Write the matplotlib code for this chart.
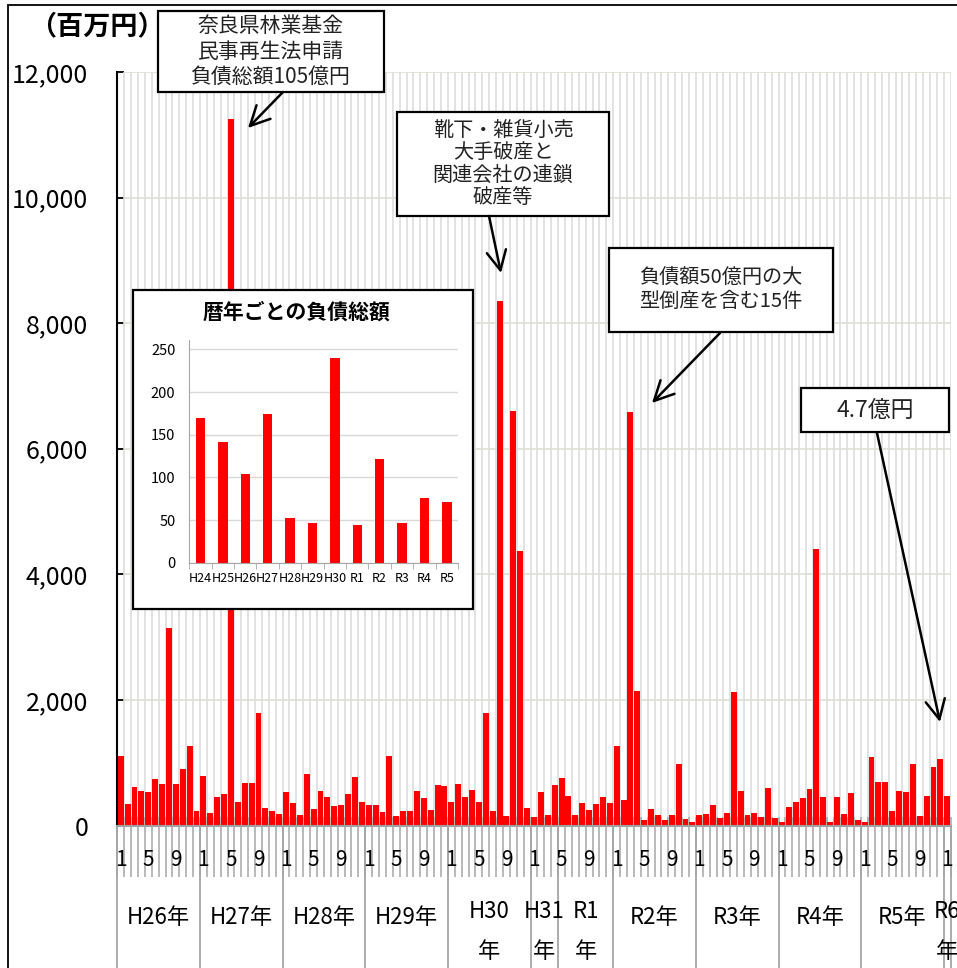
import numpy as np
import matplotlib
matplotlib.use("Agg")
import matplotlib.pyplot as plt
from matplotlib.patches import Rectangle, FancyArrowPatch
from matplotlib.ticker import FuncFormatter

plt.rcParams['font.family'] = ['Noto Sans CJK JP', 'DejaVu Sans']

# ---------------- data (百万円, monthly) ----------------
h26 = [1100, 340, 606, 542, 531, 738, 664, 3150, 659, 892, 1264, 234]
h27 = [791, 207, 457, 505, 11250, 377, 680, 669, 1795, 276, 223, 191]
h28 = [537, 356, 170, 818, 260, 547, 451, 308, 319, 505, 776, 377]
h29 = [324, 324, 212, 1100, 154, 228, 223, 552, 430, 244, 643, 632]
h30 = [367, 659, 451, 568, 372, 1795, 234, 8350, 154, 6600, 4375, 282]
h31 = [138, 537, 165, 643]
r1 = [760, 467, 165, 356, 250, 335, 451, 356]
r2 = [1270, 404, 6580, 2140, 85, 266, 165, 80, 170, 972, 101, 58]
r3 = [165, 181, 329, 127, 207, 2130, 547, 175, 202, 138, 600, 117]
r4 = [53, 297, 372, 436, 579, 4400, 446, 48, 446, 186, 515, 85]
r5 = [58, 1089, 696, 685, 234, 542, 537, 972, 159, 462, 924, 1062]
r6 = [470]

year_series = [h26, h27, h28, h29, h30, h31, r1, r2, r3, r4, r5, r6]
year_labels = ["H26年", "H27年", "H28年", "H29年", "H30\n年", "H31\n年", "R1\n年",
               "R2年", "R3年", "R4年", "R5年", "R6\n年"]
month_start = 1  # first month = January
month_label_set = [1, 5, 9]

# inset: annual totals (億円)
inset_cats = ["H24", "H25", "H26", "H27", "H28", "H29", "H30", "R1", "R2", "R3", "R4", "R5"]
inset_vals = [169, 141, 104, 174, 52, 47, 240, 44, 121, 47, 76, 71]

monthly = np.concatenate([np.array(s, dtype=float) for s in year_series])
n = len(monthly)
x = np.arange(n)
months = (np.arange(n) + month_start - 1) % 12 + 1

W, H = 957, 968
fig = plt.figure(figsize=(W / 100, H / 100), dpi=100)

def fx(px):
    return px / W

def fy(py):
    return 1 - py / H

# ---------------- main axes ----------------
L, R, T, B = 117.3, 950.7, 72.0, 825.5
ax = fig.add_axes([fx(L), fy(B), (R - L) / W, (B - T) / H], zorder=0)

def ay(py):
    return (B - py) / (B - T)

ax.set_xlim(-0.5, n - 0.5)
ax.set_ylim(0, 12000)
ax.set_axisbelow(True)
ax.yaxis.grid(True, color='#e2ded2', lw=1.2)
bounds = np.arange(n + 1) - 0.5
xt = ax.get_xaxis_transform()
ax.vlines(bounds, 0, 1, transform=xt, color='#dddddd', lw=1.2, zorder=0.6)

ax.bar(x, monthly, width=0.86, color='#ff0000', zorder=2, linewidth=0)

for s in ['top', 'right']:
    ax.spines[s].set_visible(False)
ax.spines['left'].set_color('black')
ax.spines['left'].set_linewidth(1.5)
ax.spines['bottom'].set_color('#a0a0a0')
ax.spines['bottom'].set_linewidth(1.5)
ax.spines['bottom'].set_zorder(3)

ax.set_yticks(np.arange(0, 12001, 2000))
ax.yaxis.set_major_formatter(FuncFormatter(lambda v, p: f"{int(v):,}"))
ax.tick_params(axis='y', direction='in', length=5, width=1.3, labelsize=18, pad=21, colors='black')
ax.set_xticks([])

# month tick marks (category boundaries)
ax.vlines(bounds, ay(817), ay(877), transform=xt, color='#a6a6a6', lw=1.1,
          clip_on=False, zorder=1)
# month labels
for i in x:
    if months[i] in month_label_set:
        ax.text(i, ay(860), str(months[i]), transform=xt, ha='center', va='center',
                fontsize=15, color='black', clip_on=False, zorder=4)

# year separators and labels
counts = [len(s) for s in year_series]
starts = np.concatenate([[0], np.cumsum(counts)])
ax.vlines(starts - 0.5, ay(825.5), ay(990), transform=xt, color='#a6a6a6', lw=1.3,
          clip_on=False, zorder=1)
for k, lab in enumerate(year_labels):
    cx = (starts[k] + starts[k + 1] - 1) / 2
    if "\n" in lab:
        top, bot = lab.split("\n")
        ax.text(cx, ay(912), top, transform=xt, ha='center', va='center',
                fontsize=16, clip_on=False)
        ax.text(cx, ay(951), bot, transform=xt, ha='center', va='center',
                fontsize=16, clip_on=False)
    else:
        ax.text(cx, ay(917), lab, transform=xt, ha='center', va='center',
                fontsize=16, clip_on=False)

# unit label
fig.text(fx(97), fy(26), "（百万円）", ha='center', va='center', fontsize=19.5,
         fontweight='bold')

# outer chart border
fig.add_artist(Rectangle((fx(8), fy(1000)), fx(1000), fy(5) - fy(1000),
                         transform=fig.transFigure, fill=False, ec='black', lw=1.3,
                         zorder=5))

# ---------------- inset ----------------
fig.add_artist(Rectangle((fx(133), fy(609)), fx(473) - fx(133), fy(290) - fy(609),
                         transform=fig.transFigure, fc='white', ec='black', lw=1.6,
                         zorder=1))
ax2 = fig.add_axes([fx(189.3), fy(562.7), (458 - 189.3) / W, (562.7 - 340) / H], zorder=2)
ax2.patch.set_alpha(0)
xi = np.arange(len(inset_vals))
ax2.set_axisbelow(True)
ax2.yaxis.grid(True, color='#d9d9d9', lw=1.0)
ax2.bar(xi, inset_vals, width=0.42, color='#ff0000', zorder=2, linewidth=0)
ax2.set_xlim(-0.5, len(inset_vals) - 0.5)
ax2.set_ylim(0, 261)
ax2.set_yticks(np.arange(0, 251, 50))
ax2.set_xticks(xi)
ax2.set_xticklabels(inset_cats)
ax2.set_xticks(np.arange(len(inset_vals) + 1) - 0.5, minor=True)
ax2.tick_params(axis='x', which='major', length=0, labelsize=9, pad=7)
ax2.tick_params(axis='x', which='minor', length=4, color='#a6a6a6', direction='out')
ax2.tick_params(axis='y', length=0, labelsize=10.5, pad=10)
for s in ['top', 'right']:
    ax2.spines[s].set_visible(False)
ax2.spines['left'].set_color('#a6a6a6')
ax2.spines['bottom'].set_color('#a6a6a6')
fig.text(fx(297), fy(312), "暦年ごとの負債総額", ha='center', va='center', fontsize=15,
         fontweight='bold', zorder=3)

# ---------------- callouts ----------------
def callout(x0, y0, x1, y1, text, fs, ls=1.15):
    fig.add_artist(Rectangle((fx(x0), fy(y1)), fx(x1) - fx(x0), fy(y0) - fy(y1),
                             transform=fig.transFigure, fc='white', ec='black', lw=1.6,
                             zorder=3))
    fig.text(fx((x0 + x1) / 2), fy((y0 + y1) / 2), text, ha='center', va='center',
             fontsize=fs, linespacing=ls, zorder=4, color='#222222')

def arrow(x0, y0, x1, y1):
    fig.add_artist(FancyArrowPatch((fx(x0), fy(y0)), (fx(x1), fy(y1)),
                                   transform=fig.transFigure,
                                   arrowstyle='->,head_length=0.7,head_width=0.35',
                                   mutation_scale=20, lw=1.8, color='black',
                                   shrinkA=0, shrinkB=0, zorder=4))

callout(158, 11, 384, 92, "奈良県林業基金\n民事再生法申請\n負債総額105億円", 15, 1.2)
arrow(283, 92, 248, 128)
callout(397, 112, 609, 216, "靴下・雑貨小売\n大手破産と\n関連会社の連鎖\n破産等", 14.5, 1.1)
arrow(489, 216, 501, 273)
callout(609, 248, 833, 332, "負債額50億円の大\n型倒産を含む15件", 14.5, 1.1)
arrow(720, 333, 652, 403)
callout(801, 388, 949, 432, "4.7億円", 16.5)
arrow(877, 433, 940, 722)

fig.savefig("out.png", dpi=100)
